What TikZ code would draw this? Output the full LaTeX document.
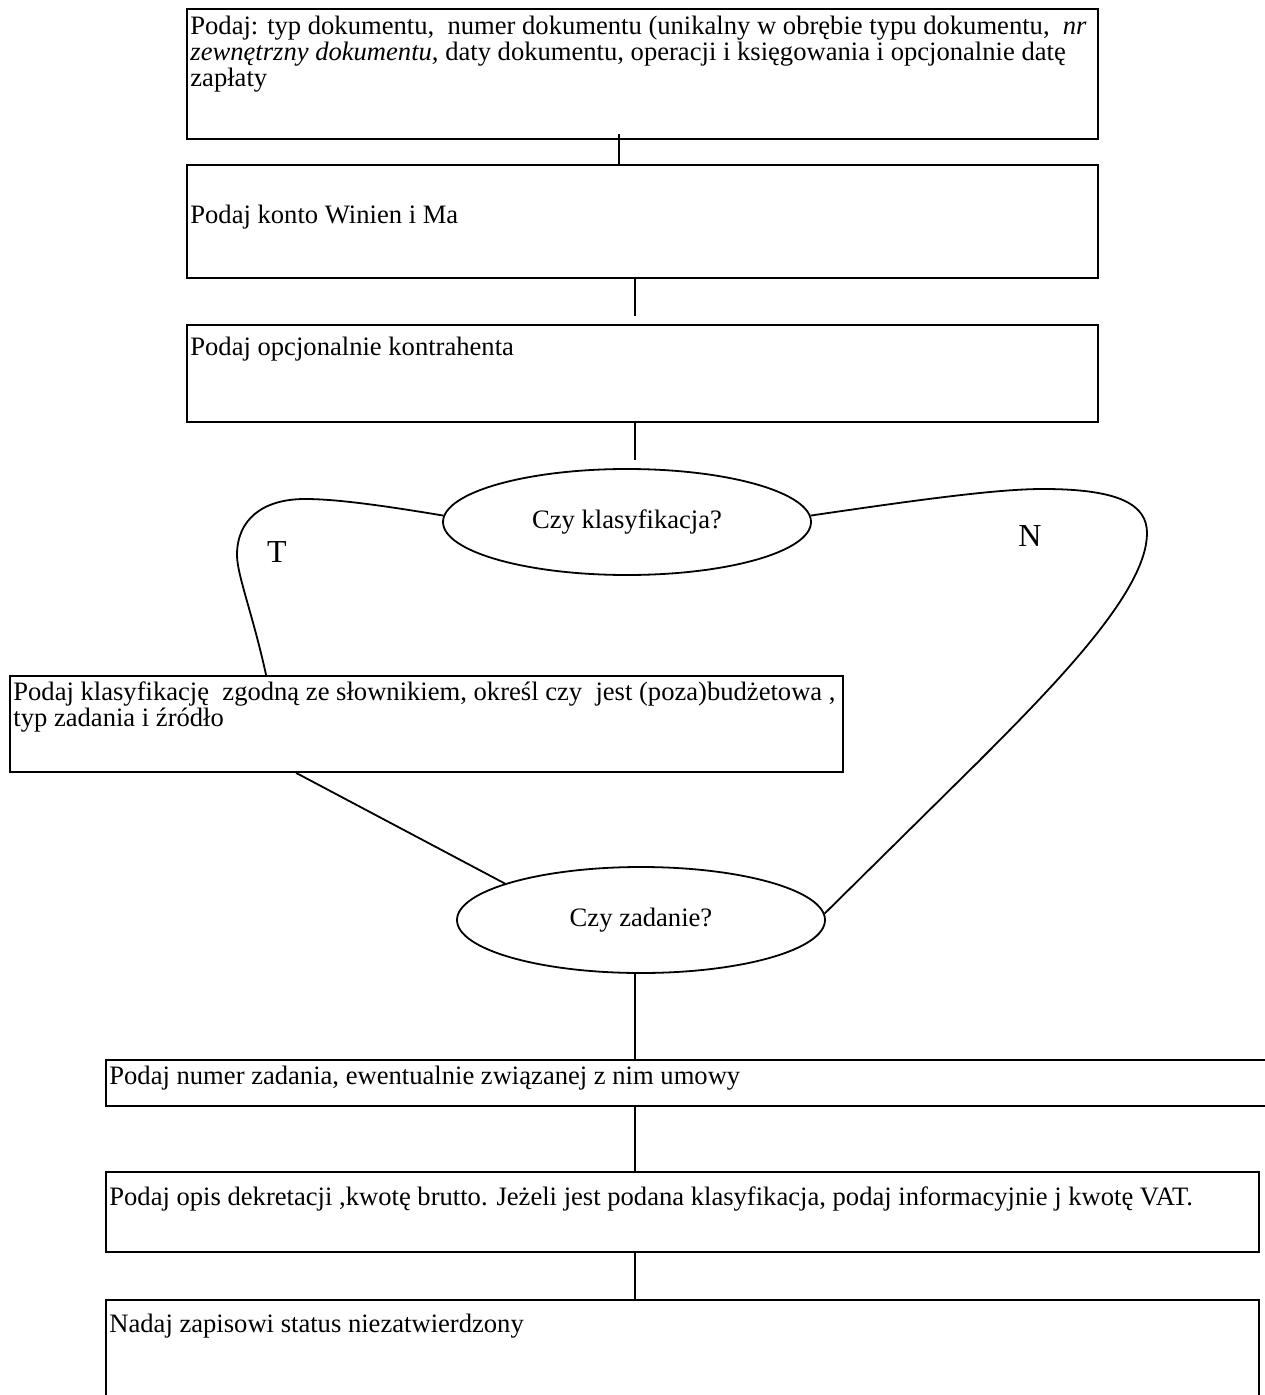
\documentclass[tikz,border=0pt]{standalone}
\usepackage{fontspec}
\setmainfont{Liberation Serif}
\usetikzlibrary{shapes.geometric,fit,calc}

\begin{document}
\begin{tikzpicture}[x=0.5pt, y=-0.5pt,
  box/.style={draw, line width=0.9pt, inner sep=0pt},
  dec/.style={draw, ellipse, line width=0.9pt, inner sep=0pt,
    minimum width=184pt, minimum height=53pt, font=\fontsize{13.3}{14}\selectfont},
  txt/.style={anchor=north west, inner sep=0pt, align=left, font=\fontsize{13.3}{13}\selectfont},
  lbl/.style={font=\fontsize{16}{18}\selectfont},
  conn/.style={line width=0.9pt}]

\useasboundingbox (0,0) rectangle (1264,1395);

% ---- boxes -----------------------------------------------------------------
\node[box, fit={(187,9)(1098,139)}]      (typ) {};
\node[box, fit={(187,165)(1098,278)}]    (konto) {};
\node[box, fit={(187,325)(1098,422)}]    (kontr) {};
\node[box, fit={(10,676)(843,772)}]      (klasyf) {};
\node[box, fit={(106,1060)(1272,1106)}]  (zadanie) {};
\node[box, fit={(106,1172)(1259,1252)}]  (opis) {};
\node[box, fit={(106,1300)(1259,1404)}]  (status) {};

% ---- decisions -------------------------------------------------------------
\node[dec] (czyklas) at (627,522) {Czy klasyfikacja?};
\node[dec] (czyzad)  at (641,920) {Czy zadanie?};

% ---- box texts -------------------------------------------------------------
\node[txt] (ttyp) at (190,16)
  {Podaj: typ dokumentu,\ \ numer dokumentu (unikalny w obrębie typu dokumentu,\ \ \textit{nr}\\
   \textit{zewnętrzny dokumentu,} daty dokumentu, operacji i księgowania i opcjonalnie datę\\
   zapłaty};
\node[txt] (tkonto) at (190,205) {Podaj konto Winien i Ma};
\node[txt] (tkontr) at (190,337) {Podaj opcjonalnie kontrahenta};
\node[txt] (tklasyf) at (13,681)
  {Podaj klasyfikację\ \ zgodną ze słownikiem, określ czy\ \ jest (poza)budżetowa ,\\
   typ zadania i źródło};
\node[txt] (tzad) at (109,1066) {Podaj numer zadania, ewentualnie związanej z nim umowy};
\node[txt] (topis) at (109,1186)
  {Podaj opis dekretacji ,kwotę brutto. Jeżeli jest podana klasyfikacja, podaj informacyjnie j kwotę VAT.};
\node[txt] (tstatus) at (109,1314) {Nadaj zapisowi status niezatwierdzony};

% ---- branch labels ---------------------------------------------------------
\node[lbl] (lt) at (277,552) {T};
\node[lbl] (ln) at (1030,536) {N};

% ---- connectors ------------------------------------------------------------
\coordinate (xa) at (619,0);
\coordinate (xb) at (635,0);
\draw[conn, shorten <=-3pt] (typ.south -| xa) -- (konto.north -| xa);
\draw[conn, shorten >=4pt]  (konto.south -| xb) -- (kontr.north -| xb);
\draw[conn, shorten >=4pt]  (kontr.south -| xb) -- (czyklas.north -| xb);

% T branch
\draw[conn] (czyklas.178) .. controls (380,505) and (335,499) .. (305,499)
  .. controls (262,499) and (237,520) .. (237,555)
  .. controls (237,575) and (253,615) .. ($(klasyf.north west)+(257,0)$);
% N branch
\draw[conn] (czyklas.2) .. controls (930,498) and (1000,489) .. (1043,489)
  .. controls (1120,489) and (1147,505) .. (1147,533)
  .. controls (1147,590) and (1060,680) .. (977,763) -- (czyzad.2);

\draw[conn] ($(klasyf.south west)+(287,0)$) -- (czyzad.165);
\draw[conn] (czyzad.south -| xb) -- (zadanie.north -| xb);
\draw[conn] (zadanie.south -| xb) -- (opis.north -| xb);
\draw[conn] (opis.south -| xb) -- (status.north -| xb);

\end{tikzpicture}
\end{document}
